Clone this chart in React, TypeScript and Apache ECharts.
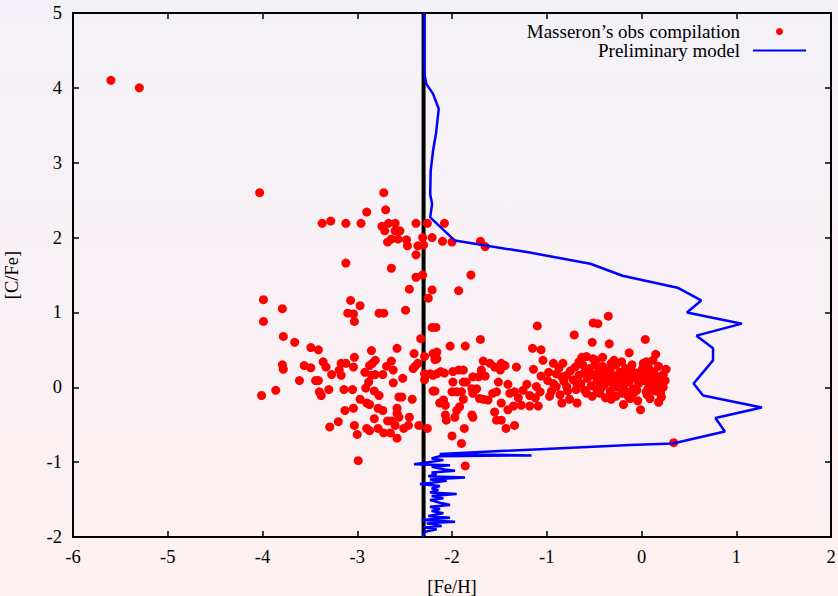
import React, { useEffect, useRef } from "react";
import * as echarts from "echarts";

const xTicks = { min: -6, max: 2, interval: 1 };
const yTicks = { min: -2, max: 5, interval: 1 };
const seriesNames = ["Masseron’s obs compilation", "Preliminary model"];
const cutoffFeH = -2.3;

// Observations: [Fe/H], [C/Fe]
const obsPoints: number[][] = [
  [-5.6, 4.1], [-5.3, 4.0], [-4.03, 2.6],
  [-3.99, 1.17], [-3.99, 0.88], [-3.79, 1.05], [-3.78, 0.68], [-3.66, 0.6], [-3.49, 0.53], [-3.41, 0.5],
  [-3.79, 0.3], [-3.78, 0.24], [-3.56, 0.29], [-3.49, 0.26], [-3.36, 0.34], [-3.33, 0.27], [-3.17, 0.32],
  [-3.12, 0.32], [-3.03, 0.4], [-3.04, 0.27], [-3.19, 0.23], [-3.17, 0.16], [-3.27, 0.17], [-3.61, 0.09],
  [-3.44, 0.09], [-3.41, 0.09], [-3.86, -0.04], [-4.01, -0.11], [-3.4, -0.06], [-3.38, -0.11], [-3.3, -0.03],
  [-3.14, -0.03], [-3.05, -0.03], [-3.13, -0.31], [-3.04, -0.28], [-3.2, -0.46], [-3.29, -0.53], [-3.03, -0.51],
  [-3.0, -0.63], [-2.99, -0.98],
  [-3.37, 2.19], [-3.28, 2.22], [-3.12, 2.19], [-2.96, 2.19], [-2.9, 2.34], [-2.72, 2.6], [-2.7, 2.37],
  [-2.74, 2.15], [-2.71, 2.09], [-2.67, 2.19], [-2.6, 2.19], [-2.6, 2.09], [-2.55, 2.09], [-2.68, 1.94],
  [-2.64, 1.98], [-2.57, 1.98], [-2.48, 1.97], [-2.47, 1.89], [-2.38, 2.19], [-2.26, 2.19], [-2.38, 1.77],
  [-2.31, 2.0], [-2.36, 1.89], [-2.3, 1.9], [-2.21, 2.0], [-2.08, 2.19], [-2.1, 1.95], [-2.0, 1.94],
  [-1.7, 1.95], [-1.65, 1.88],
  [-2.64, 1.59], [-3.12, 1.66], [-2.38, 1.47], [-2.31, 1.5], [-1.8, 1.5], [-2.45, 1.31], [-2.21, 1.3],
  [-1.93, 1.29], [-2.25, 1.19],
  [-3.07, 1.16], [-2.97, 1.09], [-3.1, 0.99], [-3.04, 0.98], [-3.03, 0.88], [-2.77, 0.99], [-2.72, 0.99],
  [-2.49, 1.03], [-2.21, 0.8], [-2.17, 0.8],
  [-2.85, 0.49], [-2.58, 0.52], [-2.4, 0.45], [-2.33, 0.65], [-2.81, 0.36], [-2.84, 0.32], [-2.87, 0.29],
  [-2.92, 0.2], [-2.85, 0.16], [-2.81, 0.17], [-2.88, 0.07], [-2.91, -0.01], [-2.69, 0.28], [-2.64, 0.35],
  [-2.62, 0.23], [-2.73, 0.17], [-2.62, 0.06], [-2.52, 0.12], [-2.41, 0.25], [-2.39, 0.28], [-2.36, 0.32],
  [-2.29, 0.41], [-2.2, 0.45], [-2.16, 0.38], [-2.29, 0.18], [-2.23, 0.18], [-2.16, 0.18], [-2.29, 0.1],
  [-2.2, -0.05], [-2.13, -0.21], [-2.82, -0.05], [-2.77, -0.11], [-2.97, -0.16], [-2.9, -0.21], [-2.87, -0.23],
  [-2.56, -0.13], [-2.53, -0.13], [-2.42, -0.16], [-2.78, -0.28], [-2.73, -0.31], [-2.58, -0.28], [-2.58, -0.35],
  [-2.56, -0.4], [-2.82, -0.42], [-2.68, -0.45], [-2.64, -0.45], [-2.6, -0.51], [-2.45, -0.4], [-2.9, -0.55],
  [-2.87, -0.58], [-2.78, -0.55], [-2.72, -0.61], [-2.65, -0.61], [-2.58, -0.68], [-2.51, -0.55], [-2.46, -0.51],
  [-2.35, -0.51], [-2.26, -0.55],
  [-2.02, 0.55], [-1.86, 0.55], [-1.7, 0.64], [-2.16, 0.47], [-2.18, 0.37], [-1.67, 0.35], [-1.6, 0.32],
  [-1.48, 0.32], [-1.44, 0.29], [-1.32, 0.27], [-1.15, 0.52], [-1.06, 0.5], [-1.1, 0.82], [-1.04, 0.36],
  [-0.93, 0.32], [-0.83, 0.32], [-0.71, 0.7], [-0.51, 0.86], [-0.46, 0.85], [-0.35, 0.95], [0.04, 0.64],
  [-0.52, 0.6], [-0.34, 0.58], [-0.13, 0.46], [0.15, 0.44], [0.12, 0.36],
  [-0.63, 0.4], [-0.58, 0.41], [-0.51, 0.38], [-0.41, 0.4], [-0.32, 0.32], [-0.21, 0.34], [0.02, 0.32],
  [0.07, 0.27], [0.09, 0.23], [0.26, 0.24], [0.25, 0.09],
  [-2.12, 0.21], [-2.08, 0.19], [-2.2, 0.16], [-1.99, 0.21], [-1.93, 0.23], [-1.88, 0.23], [-1.69, 0.23],
  [-1.65, 0.15], [-1.55, 0.27], [-1.49, 0.23], [-1.14, 0.24], [-1.06, 0.15], [-0.99, 0.09], [-1.78, 0.14],
  [-1.72, 0.14], [-1.99, 0.07], [-1.88, 0.07], [-1.85, 0.07], [-1.51, 0.07], [-1.41, 0.04], [-1.21, 0.04],
  [-1.11, 0.01], [-0.9, 0.18], [-0.84, 0.14], [-0.79, 0.16],
  [-2.18, -0.05], [-2.09, -0.17], [-2.07, -0.24], [-2.0, -0.06], [-1.95, -0.06], [-1.9, -0.06], [-1.88, -0.16],
  [-1.74, -0.02], [-1.71, -0.15], [-1.67, -0.16], [-1.62, -0.17], [-1.57, -0.08], [-1.53, -0.06], [-1.79, -0.02],
  [-1.78, -0.08], [-1.48, -0.21], [-1.39, -0.08], [-1.34, -0.06], [-1.3, -0.14], [-1.25, -0.04], [-1.18, -0.11],
  [-1.12, -0.14], [-1.07, -0.06], [-1.41, -0.3], [-1.35, -0.25], [-1.27, -0.24], [-1.18, -0.25], [-1.09, -0.25],
  [-2.07, -0.37], [-2.06, -0.44], [-1.97, -0.4], [-1.92, -0.26], [-1.95, -0.31], [-1.79, -0.37], [-1.78, -0.4],
  [-1.55, -0.33], [-1.53, -0.44], [-1.48, -0.44], [-1.87, -0.55], [-1.43, -0.55], [-1.34, -0.51], [-2.0, -0.65],
  [-1.9, -0.75], [-1.86, -1.05],
  [-0.97, -0.12], [-0.84, -0.21], [-0.76, -0.16], [-0.68, -0.21], [-0.9, 0.01], [-0.79, 0.01], [-0.68, 0.04],
  [-0.6, -0.04], [-0.47, -0.03], [-0.44, -0.08], [-0.32, -0.16], [-0.19, -0.23], [-0.12, -0.15], [-0.01, -0.3],
  [0.18, -0.2], [-0.26, 0.0], [-0.16, -0.06], [-0.05, -0.04], [0.06, -0.1], [0.13, -0.04], [0.2, -0.08],
  [0.23, 0.0], [0.34, -0.74],
  [-0.75, 0.22], [-0.72, 0.1], [-0.7, 0.27], [-0.66, 0.16], [-0.64, 0.05], [-0.62, 0.3], [-0.6, 0.2],
  [-0.57, 0.12], [-0.55, 0.25], [-0.53, 0.02], [-0.51, 0.17], [-0.49, 0.3], [-0.47, 0.09], [-0.45, 0.22],
  [-0.43, 0.14], [-0.41, 0.28], [-0.39, 0.04], [-0.37, 0.18], [-0.35, 0.1], [-0.33, 0.24], [-0.31, 0.06],
  [-0.29, 0.15], [-0.27, 0.3], [-0.25, 0.08], [-0.23, 0.2], [-0.21, 0.12], [-0.19, 0.02], [-0.17, 0.25],
  [-0.15, 0.16], [-0.13, 0.07], [-0.11, 0.22], [-0.09, -0.02], [-0.07, 0.13], [-0.05, 0.19], [-0.03, 0.05],
  [-0.01, 0.15], [0.01, 0.25], [0.03, 0.09], [0.05, 0.17], [0.07, -0.01], [0.09, 0.12], [0.11, 0.05],
  [0.13, 0.2], [0.15, 0.1], [0.17, 0.02], [0.19, 0.14], [0.21, 0.07], [0.23, 0.17], [0.15, -0.05],
  [0.05, -0.06], [-0.08, -0.07], [-0.2, -0.08], [-0.33, -0.05], [-0.42, 0.0], [-0.58, -0.08], [-0.69, -0.03],
  [-0.52, -0.12], [-0.38, -0.14], [-0.27, -0.12], [-0.14, -0.12], [-0.04, -0.18], [0.09, -0.15], [0.21, -0.13],
  [-0.66, 0.34], [-0.48, 0.36], [-0.29, 0.36], [-0.1, 0.3], [0.05, 0.34], [0.18, 0.28],
  [-0.98, 0.2], [-0.93, 0.05], [-0.87, 0.26], [-0.82, 0.08], [-0.78, -0.05], [-0.95, -0.05], [-0.86, -0.1],
];

// Preliminary model track: [Fe/H], [C/Fe]
const modelPoints: number[][] = [
  [-2.29, 5.0], [-2.29, 4.18], [-2.27, 4.05], [-2.2, 3.92], [-2.14, 3.72], [-2.17, 3.38], [-2.2, 3.16],
  [-2.225, 2.89], [-2.23, 2.58], [-2.21, 2.45], [-2.23, 2.27], [-1.97, 1.96], [-1.18, 1.8], [-0.54, 1.65],
  [-0.2, 1.49], [0.38, 1.33], [0.63, 1.16], [0.48, 1.0], [1.06, 0.85], [0.58, 0.69], [0.755, 0.52],
  [0.755, 0.36], [0.55, 0.05], [0.65, -0.11], [1.27, -0.27], [0.78, -0.41], [0.88, -0.59], [0.33, -0.75],
  [-0.12, -0.77], [-2.13, -0.89], [-1.16, -0.91], [-2.13, -0.92],
  [-2.215, -0.951], [-2.091, -0.973], [-2.401, -1.027], [-2.021, -1.04], [-2.215, -1.062], [-2.074, -1.098],
  [-1.968, -1.116], [-2.215, -1.138], [-2.162, -1.16], [-2.25, -1.187], [-1.863, -1.204], [-2.232, -1.231],
  [-2.056, -1.249], [-2.215, -1.276], [-2.338, -1.293], [-2.127, -1.32], [-2.215, -1.351], [-2.144, -1.373],
  [-2.232, -1.404], [-1.951, -1.427], [-2.215, -1.453], [-2.091, -1.484], [-2.232, -1.507], [-2.127, -1.542],
  [-2.021, -1.573], [-2.232, -1.596], [-2.127, -1.627], [-2.215, -1.653], [-2.091, -1.684], [-2.25, -1.72],
  [-2.021, -1.742], [-2.32, -1.773], [-1.968, -1.796], [-2.267, -1.818], [-2.109, -1.853], [-2.303, -1.871],
  [-2.162, -1.898], [-2.285, -1.929], [-2.303, -1.973], [-2.303, -2.0],
];

const FONT = "'Liberation Serif', 'DejaVu Serif', serif";

export default function App() {
  const ref = useRef<HTMLDivElement>(null);
  useEffect(() => {
    document.body.style.margin = "0";
    document.body.style.overflow = "hidden";
    const chart = echarts.init(ref.current!, null, { renderer: "svg", width: 838, height: 596 });
    const axisCommon = {
      type: "value" as const,
      axisLine: { show: true, onZero: false, lineStyle: { color: "#000", width: 2 } },
      axisTick: { show: true, inside: true, length: 6, lineStyle: { color: "#000", width: 1.5 } },
      splitLine: { show: false },
    };
    chart.setOption({
      animation: false,
      backgroundColor: "transparent",
      grid: { left: 73, right: 7, top: 13, bottom: 59, containLabel: false, outerBoundsMode: "none" },
      legend: {
        right: 31,
        top: 22,
        padding: 0,
        orient: "vertical",
        align: "right",
        itemWidth: 53,
        itemHeight: 7,
        itemGap: 0,
        selectedMode: false,
        textStyle: { fontFamily: FONT, fontSize: 19, color: "#000", lineHeight: 18, padding: [0, 8, 0, 0] },
        data: [
          { name: seriesNames[0], icon: "circle" },
          { name: seriesNames[1], itemStyle: { opacity: 0 } },
        ],
      },
      xAxis: [
        {
          ...axisCommon,
          min: xTicks.min,
          max: xTicks.max,
          interval: xTicks.interval,
          position: "bottom",
          name: "[Fe/H]",
          nameLocation: "middle",
          nameGap: 40,
          nameTextStyle: { fontFamily: FONT, fontSize: 18.5, color: "#000" },
          axisLabel: { fontFamily: FONT, fontSize: 18.5, color: "#000", margin: 10 },
        },
        {
          ...axisCommon,
          min: xTicks.min,
          max: xTicks.max,
          interval: xTicks.interval,
          position: "top",
          axisLabel: { show: false },
        },
      ],
      yAxis: [
        {
          ...axisCommon,
          min: yTicks.min,
          max: yTicks.max,
          interval: yTicks.interval,
          position: "left",
          name: "[C/Fe]",
          nameLocation: "middle",
          nameGap: 52,
          nameRotate: 90,
          nameTextStyle: { fontFamily: FONT, fontSize: 18.5, color: "#000" },
          axisLabel: { fontFamily: FONT, fontSize: 18.5, color: "#000", margin: 11 },
        },
        {
          ...axisCommon,
          min: yTicks.min,
          max: yTicks.max,
          interval: yTicks.interval,
          position: "right",
          axisLabel: { show: false },
        },
      ],
      series: [
        {
          name: "cutoff",
          type: "line",
          data: [[cutoffFeH, yTicks.min], [cutoffFeH, yTicks.max]],
          symbol: "none",
          silent: true,
          lineStyle: { color: "#000", width: 4 },
          z: 1,
        },
        {
          name: seriesNames[0],
          type: "scatter",
          data: obsPoints,
          symbol: "circle",
          symbolSize: 9,
          itemStyle: { color: "#ff0000", opacity: 1 },
          z: 2,
        },
        {
          name: seriesNames[1],
          type: "line",
          data: modelPoints,
          symbol: "none",
          lineStyle: { color: "#0000ff", width: 2.5 },
          itemStyle: { color: "#0000ff" },
          z: 3,
        },
      ],
    });
    return () => chart.dispose();
  }, []);
  return (
    <div
      ref={ref}
      style={{
        position: "absolute",
        left: 0,
        top: 0,
        width: 838,
        height: 596,
        background: "linear-gradient(to bottom, #f4f2f8 0%, #f8f1f5 50%, #fdf0f0 100%)",
      }}
    />
  );
}
